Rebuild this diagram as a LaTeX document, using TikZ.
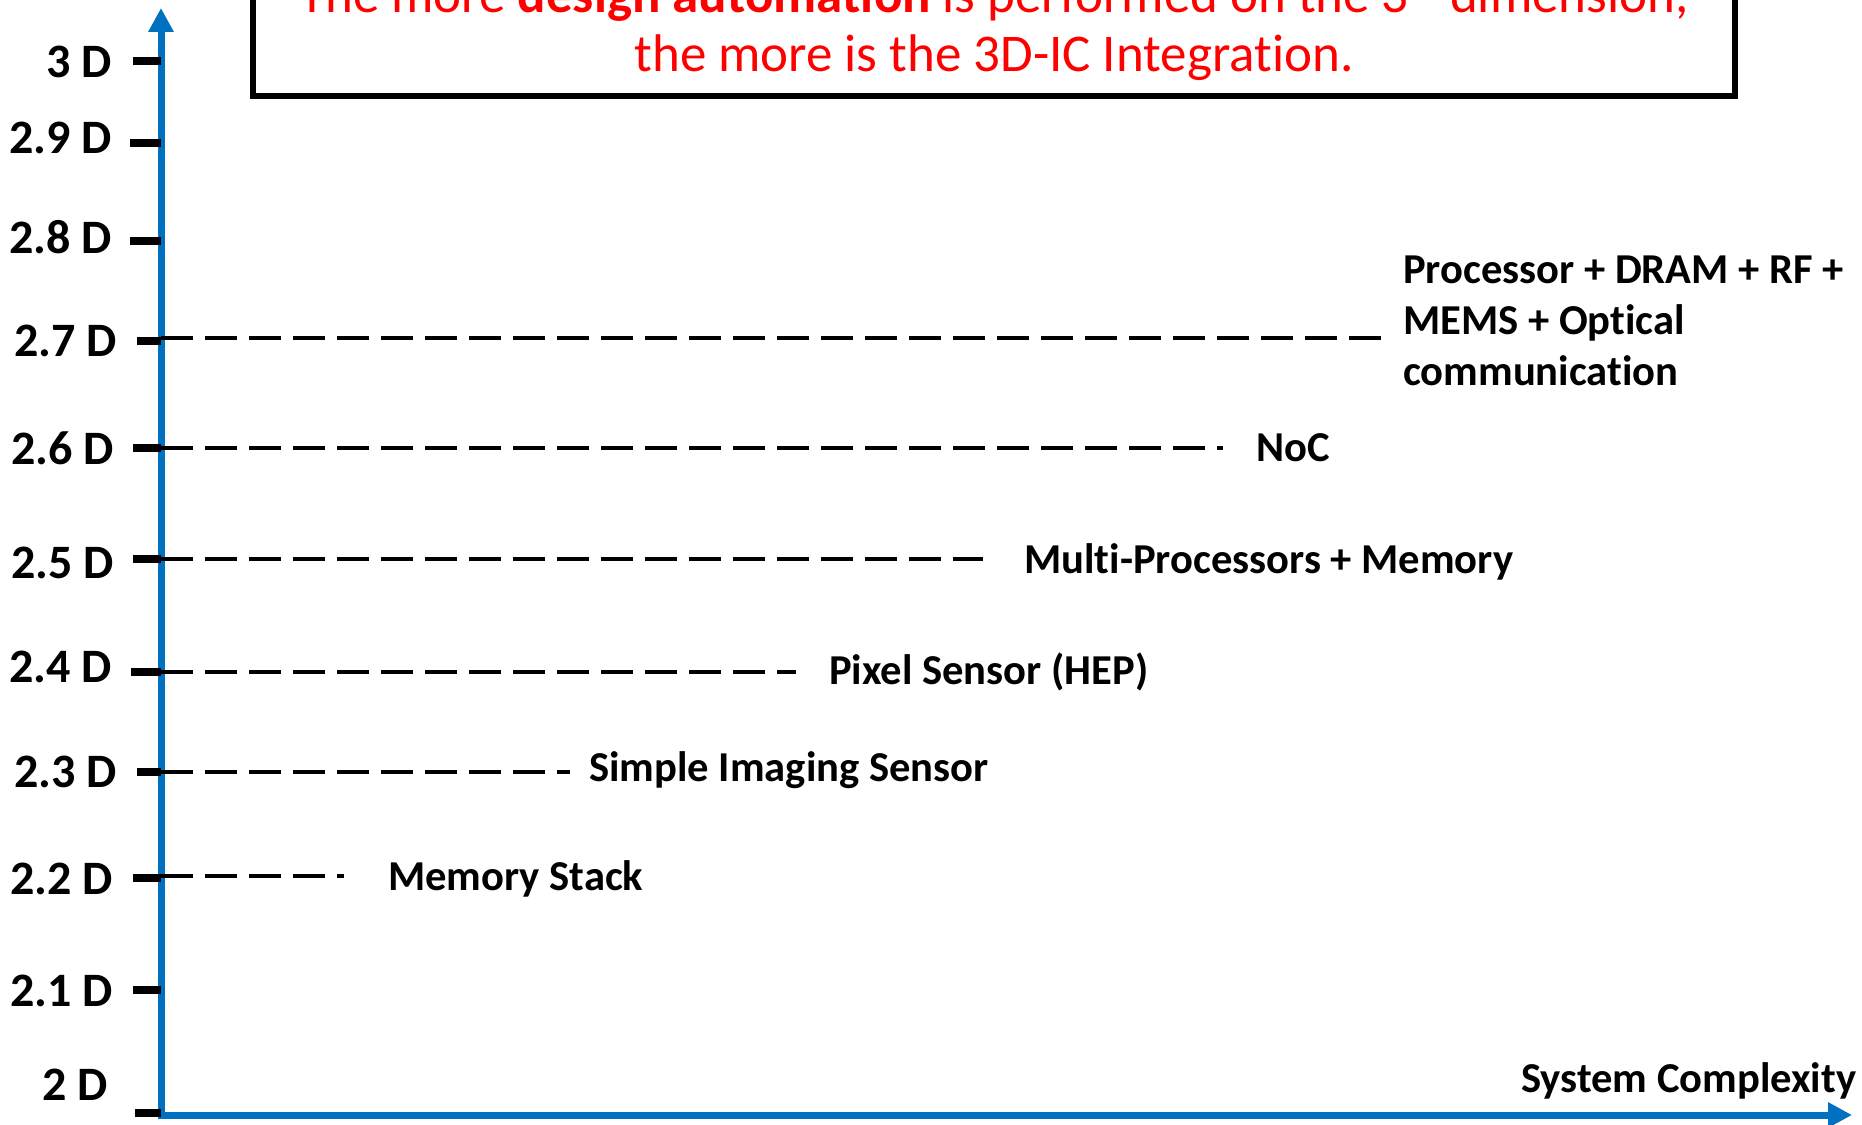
\documentclass[tikz,border=0pt]{standalone}
\usepackage{fontspec}
\setmainfont{Carlito}[Ligatures=NoCommon]
\usetikzlibrary{arrows.meta}
\definecolor{axisblue}{RGB}{0,112,192}
\definecolor{titlered}{RGB}{255,0,0}
\begin{document}
\begin{tikzpicture}[x=1pt,y=-1pt,
  axisline/.style={line width=7pt, draw=axisblue, -{Triangle[width=24pt,length=24pt]}},
  tickline/.style={line width=8pt, draw=black},
  levelline/.style={line width=4pt, draw=black, dash pattern=on 32pt off 12pt},
  dlabel/.style={font=\fontsize{48}{56}\selectfont\bfseries, inner sep=0pt, anchor=east},
  ilabel/.style={font=\fontsize{42.6}{51}\selectfont\bfseries, inner sep=0pt, anchor=base west, align=left},
  titletext/.style={font=\fontsize{53}{58}\selectfont, text=titlered, inner sep=0pt, anchor=base},
]
\useasboundingbox (0,0) rectangle (1862,1124);
\clip (0,0) rectangle (1862,1124);
\fill[white] (0,0) rectangle (1862,1124);

% title box
\node[titletext] (title1) at (994,13) {The more \textbf{design automation} is performed on the 3\raisebox{0.55em}{\fontsize{34}{40}\selectfont rd} dimension,};
\node[titletext] (title2) at (994,71) {the more is the 3D-IC Integration.};
\draw[line width=6pt] (253,-20) rectangle (1735,96);

% axes
\coordinate (O) at (161,1115);
\coordinate (ytop) at (161,8);
\coordinate (xend) at (1852,1115);
\draw[axisline] (161,1118.5) -- (ytop);
\draw[axisline] (157.5,1115) -- (xend);
\node[font=\fontsize{42.6}{51}\selectfont\bfseries, inner sep=0pt, anchor=base west] (xlab) at (1521,1092) {System Complexity};

% dimension labels and ticks
\foreach \nm/\txt/\lx/\ly/\tx/\ty in {
  d30/3 D/112/62/133/61,
  d29/2.9 D/112/138/130/143,
  d28/2.8 D/112/237/130/241,
  d27/2.7 D/117/341/137/341,
  d26/2.6 D/114/448/133/448,
  d25/2.5 D/114/563/133/559,
  d24/2.4 D/112/667/131/672,
  d23/2.3 D/117/772/137/772,
  d22/2.2 D/113/879/133/878,
  d21/2.1 D/113/991/133/990,
  d20/2 D/108/1085/135/1113}{
  \node[dlabel] (\nm) at (\lx,\ly) {\txt};
  \coordinate (\nm-t) at (\tx,\ty);
  \coordinate (\nm-a) at (161,\ty);
  \draw[tickline] (\nm-t) -- (\nm-a);
}

% level lines and items
\coordinate (e27) at (1383,338);
\coordinate (s27) at (161,338);
\draw[levelline] (s27) -- (e27);
\node[ilabel] (i27) at (1403,385) {Processor + DRAM + RF +\\MEMS + Optical\\communication};

\coordinate (s26) at (161,448);
\coordinate (e26) at (1223,448);
\draw[levelline] (s26) -- (e26);
\node[ilabel] (i26) at (1256,461) {NoC};

\coordinate (s25) at (161,559);
\coordinate (e25) at (983,559);
\draw[levelline] (s25) -- (e25);
\node[ilabel] (i25) at (1024,573) {Multi-Processors + Memory};

\coordinate (s24) at (161,672);
\coordinate (e24) at (796,672);
\draw[levelline] (s24) -- (e24);
\node[ilabel] (i24) at (829,684) {Pixel Sensor (HEP)};

\coordinate (s23) at (161,772);
\coordinate (e23) at (570,772);
\draw[levelline] (s23) -- (e23);
\node[ilabel] (i23) at (589,781) {Simple Imaging Sensor};

\coordinate (s22) at (161,876);
\coordinate (e22) at (344,876);
\draw[levelline] (s22) -- (e22);
\node[ilabel] (i22) at (388,890) {Memory Stack};
\end{tikzpicture}
\end{document}
